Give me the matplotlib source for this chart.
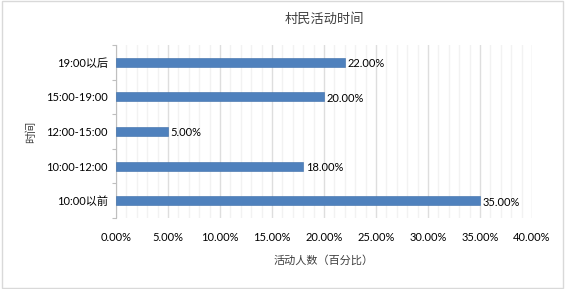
import matplotlib
matplotlib.use("Agg")
import matplotlib.pyplot as plt
from matplotlib.patches import Rectangle
from matplotlib.ticker import MultipleLocator, FuncFormatter

plt.rcParams['font.family'] = ['Lato', 'Noto Sans CJK SC', 'DejaVu Sans']

# data, bottom to top as drawn
categories = ["10:00以前", "10:00-12:00", "12:00-15:00", "15:00-19:00", "19:00以后"]
values = [35.0, 18.0, 5.0, 20.0, 22.0]

title = "村民活动时间"
x_label = "活动人数（百分比）"
y_label = "时间"

bar_color = "#4f81bd"
text_color = "#404040"

fig = plt.figure(figsize=(5.66, 2.89), dpi=100)
fig.patches.append(Rectangle((0.003, 0.005), 0.992, 0.99, transform=fig.transFigure,
                             fill=False, edgecolor="#d9d9d9", linewidth=1))

ax = fig.add_axes([0.205, 0.246, 0.735, 0.598])

y = list(range(len(categories)))
ax.barh(y, values, height=0.26, color=bar_color, edgecolor="#3a6ca8", linewidth=0.4, zorder=3)

for yi, v in zip(y, values):
    ax.annotate(f"{v:.2f}%", (v, yi), xytext=(2, -1), textcoords="offset points",
                va="center", ha="left", fontsize=8, color="#000000")

ax.set_xlim(0, 40)
ax.set_ylim(-0.5, len(categories) - 0.5)
ax.xaxis.set_major_locator(MultipleLocator(5))
ax.xaxis.set_minor_locator(MultipleLocator(1))
ax.xaxis.set_major_formatter(FuncFormatter(lambda v, p: f"{v:.2f}%"))
ax.grid(axis="x", which="major", color="#dedede", linewidth=1.0, zorder=0)
ax.grid(axis="x", which="minor", color="#f2f2f2", linewidth=1.0, zorder=0)
ax.set_axisbelow(True)

ax.set_yticks(y)
ax.set_yticklabels(categories)
ax.set_yticks([i + 0.5 for i in range(-1, len(categories))], minor=True)
ax.tick_params(axis="y", which="major", length=0, pad=6, labelsize=8, labelcolor="#000000")
ax.tick_params(axis="y", which="minor", length=3, color="#bfbfbf", width=0.8)
ax.tick_params(axis="x", which="both", length=0, pad=10, labelsize=8, labelcolor="#000000")

for s in ["top", "right", "bottom"]:
    ax.spines[s].set_visible(False)
ax.spines["left"].set_color("#bfbfbf")
ax.spines["left"].set_linewidth(0.8)

ax.set_title(title, fontsize=9.5, color=text_color, pad=16)
ax.set_xlabel(x_label, fontsize=8, color=text_color, labelpad=9)
ax.set_ylabel(y_label, fontsize=8, color=text_color, labelpad=7)

fig.savefig("out.png", dpi=100)
